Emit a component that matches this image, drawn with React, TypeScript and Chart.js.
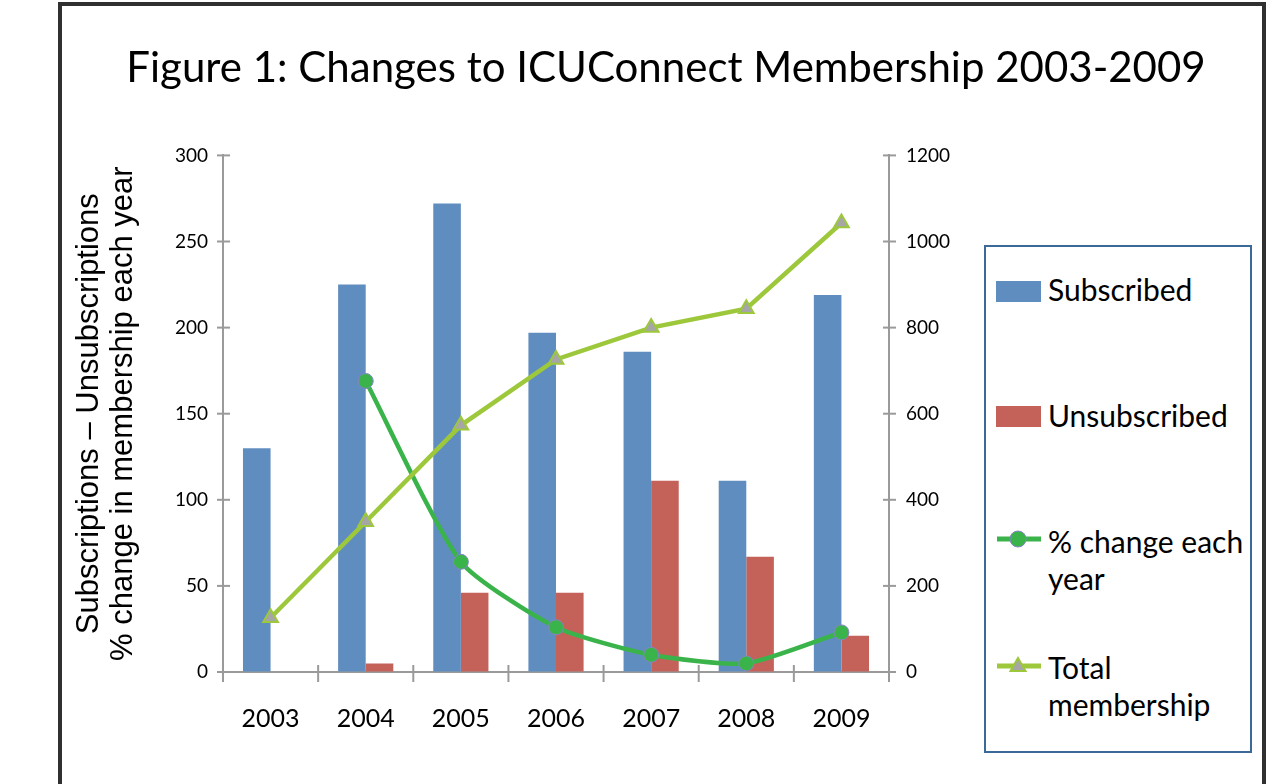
import React, { useEffect, useRef } from "react";
import { Chart, registerables } from "chart.js";

Chart.register(...registerables);

const TITLE = "Figure 1: Changes to ICUConnect Membership 2003-2009";
const CATEGORIES = ["2003", "2004", "2005", "2006", "2007", "2008", "2009"];
const SUBSCRIBED = [130, 225, 272, 197, 186, 111, 219];
const UNSUBSCRIBED = [0, 5, 46, 46, 111, 67, 21];
const PCT_CHANGE = [null, 169, 64, 26, 10, 5, 23];
const TOTAL_MEMBERSHIP = [126, 349, 573, 726, 800, 844, 1043];
const SERIES_NAMES = ["Subscribed", "Unsubscribed", "% change each year", "Total membership"];
const LEGEND_LINES = [["Subscribed"], ["Unsubscribed"], ["% change each", "year"], ["Total", "membership"]];
const LEFT_AXIS = { min: 0, max: 300, step: 50 };
const RIGHT_AXIS = { min: 0, max: 1200, step: 200 };
const Y_TITLE = ["Subscriptions \u2013 Unsubscriptions", "% change in membership each year"];

const BLUE = "#608DC0";
const RED = "#C4625A";
const GREEN = "#3AB44A";
const LIGHT_GREEN = "#9DC83C";
const MARKER_GRAY = "#A6A6A6";
const CIRCLE_EDGE = "#8484C4";
const AXIS = "#9A9A9A";

const crossTicks = {
  id: "crossTicks",
  beforeDatasetsDraw(chart: any) {
    const { ctx, scales } = chart;
    const x = scales.x, y = scales.y, y1 = scales.y1;
    ctx.save();
    ctx.strokeStyle = AXIS;
    ctx.lineWidth = 2;
    const seg = (a: number, b: number, c: number, d: number) => {
      ctx.beginPath();
      ctx.moveTo(a, b);
      ctx.lineTo(c, d);
      ctx.stroke();
    };
    y.ticks.forEach((t: any) => {
      const p = y.getPixelForValue(t.value);
      seg(y.right - 6, p, y.right + 7, p);
    });
    y1.ticks.forEach((t: any) => {
      const p = y1.getPixelForValue(t.value);
      seg(y1.left - 6, p, y1.left + 7, p);
    });
    for (let i = 0; i <= CATEGORIES.length; i++) {
      const p = x.getPixelForValue(i - 0.5);
      seg(p, x.top - 7, p, x.top + 10);
    }
    ctx.restore();
  },
};

function LegendMarker({ kind, color }: { kind: string; color: string }) {
  if (kind === "bar") {
    return <div style={{ width: 45, height: 21, background: color }} />;
  }
  return (
    <svg width={46} height={20} style={{ display: "block" }}>
      <line x1={1} y1={10} x2={45} y2={10} stroke={color} strokeWidth={5} />
      {kind === "circle" ? (
        <circle cx={22} cy={10} r={8} fill={GREEN} stroke={CIRCLE_EDGE} strokeWidth={1} />
      ) : (
        <polygon points="22,2 29.5,15 14.5,15" fill={MARKER_GRAY} stroke={LIGHT_GREEN} strokeWidth={2} />
      )}
    </svg>
  );
}

export default function App() {
  const canvasRef = useRef<HTMLCanvasElement | null>(null);

  useEffect(() => {
    const canvas = canvasRef.current;
    if (!canvas) return;
    const chart = new Chart(canvas, {
      type: "bar",
      data: {
        labels: CATEGORIES,
        datasets: [
          {
            type: "bar",
            label: SERIES_NAMES[0],
            data: SUBSCRIBED,
            backgroundColor: BLUE,
            yAxisID: "y",
            order: 2,
            categoryPercentage: 0.58,
            barPercentage: 1,
          },
          {
            type: "bar",
            label: SERIES_NAMES[1],
            data: UNSUBSCRIBED,
            backgroundColor: RED,
            yAxisID: "y",
            order: 2,
            categoryPercentage: 0.58,
            barPercentage: 1,
          },
          {
            type: "line",
            label: SERIES_NAMES[2],
            data: PCT_CHANGE,
            borderColor: GREEN,
            borderWidth: 4.5,
            tension: 0.2,
            pointRadius: 7.5,
            pointBackgroundColor: GREEN,
            pointBorderColor: CIRCLE_EDGE,
            pointBorderWidth: 1,
            yAxisID: "y",
            order: 1,
            clip: false,
          } as any,
          {
            type: "line",
            label: SERIES_NAMES[3],
            data: TOTAL_MEMBERSHIP,
            borderColor: LIGHT_GREEN,
            borderWidth: 4.5,
            tension: 0,
            pointStyle: "triangle",
            pointRadius: 8.5,
            pointBackgroundColor: MARKER_GRAY,
            pointBorderColor: LIGHT_GREEN,
            pointBorderWidth: 2,
            yAxisID: "y1",
            order: 0,
            clip: false,
          } as any,
        ],
      },
      options: {
        responsive: false,
        animation: false,
        layout: { padding: 0 },
        plugins: {
          legend: { display: false },
          tooltip: { enabled: false },
          title: {
            display: true,
            text: TITLE,
            color: "#000",
            font: { family: "Lato", size: 42, weight: "normal" },
            padding: { top: 37, bottom: 62 },
          },
        },
        scales: {
          x: {
            offset: true,
            grid: { display: true, drawOnChartArea: false, drawTicks: false, offset: true },
            border: { display: true, color: AXIS, width: 2 },
            ticks: { color: "#000", font: { family: "Lato", size: 25 }, padding: 32 },
            afterFit: (s: any) => { s.height = 112; },
          },
          y: {
            position: "left",
            min: LEFT_AXIS.min,
            max: LEFT_AXIS.max,
            ticks: {
              stepSize: LEFT_AXIS.step,
              color: "#000",
              font: { family: "Lato", size: 19 },
              padding: 15,
              callback: (v: any) => String(v),
            },
            grid: { drawOnChartArea: false, drawTicks: false },
            border: { display: true, color: AXIS, width: 2 },
            title: {
              display: true,
              text: Y_TITLE,
              color: "#000",
              font: { family: "Liberation Sans", size: 31, lineHeight: 1.1 },
              padding: { top: 6, bottom: 0 },
            },
            afterFit: (s: any) => { s.width = 157; },
          },
          y1: {
            position: "right",
            min: RIGHT_AXIS.min,
            max: RIGHT_AXIS.max,
            ticks: {
              stepSize: RIGHT_AXIS.step,
              color: "#000",
              font: { family: "Lato", size: 19 },
              padding: 17,
              callback: (v: any) => String(v),
            },
            grid: { drawOnChartArea: false, drawTicks: false },
            border: { display: true, color: AXIS, width: 2 },
            afterFit: (s: any) => { s.width = 377; },
          },
        },
      },
      plugins: [crossTicks],
    } as any);
    return () => chart.destroy();
  }, []);

  const legendItems = [
    { kind: "bar", color: BLUE, textTop: 24, markerTop: 34 },
    { kind: "bar", color: RED, textTop: 150, markerTop: 159 },
    { kind: "circle", color: GREEN, textTop: 276, markerTop: 282 },
    { kind: "triangle", color: LIGHT_GREEN, textTop: 402, markerTop: 409 },
  ];

  return (
    <div style={{ position: "fixed", left: 0, top: 0, width: 1274, height: 784, background: "#fff", overflow: "hidden" }}>
      <div
        style={{
          position: "absolute",
          left: 58,
          top: 2,
          width: 1208,
          height: 800,
          boxSizing: "border-box",
          borderLeft: "4px solid #303030",
          borderTop: "4px solid #303030",
          borderRight: "4px solid #303030",
        }}
      />
      <canvas
        ref={canvasRef}
        width={1200}
        height={778}
        style={{ position: "absolute", left: 66, top: 6, width: 1200, height: 778 }}
      />
      <div
        style={{
          position: "absolute",
          left: 984,
          top: 245,
          width: 268,
          height: 508,
          boxSizing: "border-box",
          border: "2px solid #3C6A98",
          background: "#fff",
        }}
      >
        {legendItems.map((it, i) => (
          <React.Fragment key={i}>
            <div style={{ position: "absolute", left: 10, top: it.markerTop }}>
              <LegendMarker kind={it.kind} color={it.color} />
            </div>
            <div
              style={{
                position: "absolute",
                left: 62,
                top: it.textTop,
                fontFamily: "Lato",
                fontSize: 30,
                lineHeight: "37px",
                color: "#000",
                whiteSpace: "nowrap",
              }}
            >
              {LEGEND_LINES[i].map((ln, j) => (
                <div key={j}>{ln}</div>
              ))}
            </div>
          </React.Fragment>
        ))}
      </div>
    </div>
  );
}
